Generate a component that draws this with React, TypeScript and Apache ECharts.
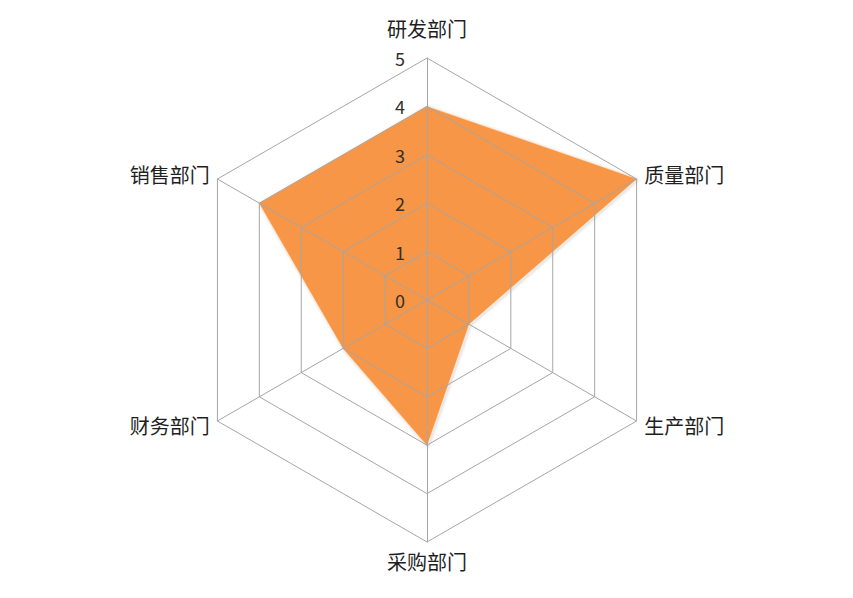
import * as echarts from "echarts";
import { useEffect, useRef } from "react";

// counter-clockwise from the top, as the radar lays them out
const departments = ["研发部门", "销售部门", "财务部门", "采购部门", "生产部门", "质量部门"];
const scores = [4, 4, 2, 3, 1, 5];
const maxScore = 5;

const fontFamily = '"Noto Sans CJK SC", "Liberation Sans", sans-serif';

export default function App() {
  const ref = useRef<HTMLDivElement | null>(null);

  useEffect(() => {
    if (!ref.current) {
      return;
    }
    const chart = echarts.init(ref.current, undefined, { renderer: "svg" });
    chart.setOption({
      animation: false,
      backgroundColor: "#ffffff",
      radar: {
        // grid and tick labels sit on top of the filled area, like the original
        z: 3,
        center: [427, 300],
        radius: 242,
        startAngle: 90,
        splitNumber: 5,
        shape: "polygon",
        nameGap: 9,
        axisName: {
          color: "#1f1f1f",
          fontSize: 20,
          fontFamily
        },
        indicator: departments.map((name, index) => ({
          name,
          min: 0,
          max: maxScore,
          ...(index === 0
            ? {
                nameGap: 20,
                axisLabel: {
                  show: true,
                  color: "#303030",
                  fontSize: 18,
                  fontFamily,
                  margin: 22
                }
              }
            : {})
        })),
        axisLabel: { show: false },
        axisLine: { lineStyle: { color: "#a6a6a6", width: 1 } },
        splitLine: { lineStyle: { color: "#a6a6a6", width: 1 } },
        splitArea: { show: false }
      },
      series: [
        {
          type: "radar",
          z: 2,
          symbol: "none",
          lineStyle: {
            color: "#fcd9b6",
            width: 1.5,
            shadowBlur: 3,
            shadowColor: "rgba(0,0,0,0.25)",
            shadowOffsetX: 1,
            shadowOffsetY: 1
          },
          areaStyle: { color: "#f79646", opacity: 1 },
          data: [{ value: scores, name: "得分" }]
        }
      ]
    });
    return () => chart.dispose();
  }, []);

  return <div ref={ref} style={{ position: "fixed", left: 0, top: 0, width: 853, height: 598 }} />;
}
